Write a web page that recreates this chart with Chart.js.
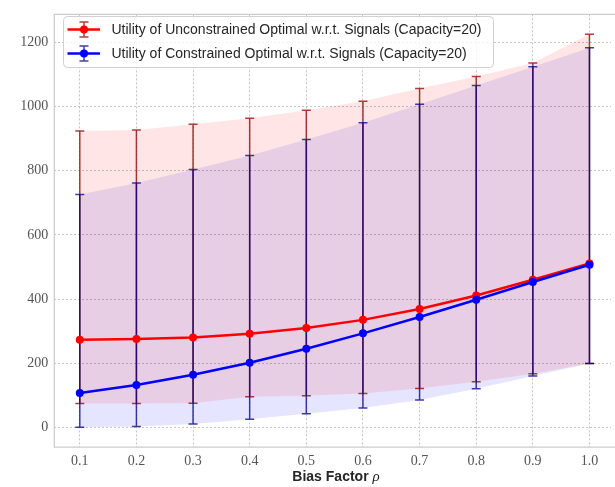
<!DOCTYPE html>
<html>
<head>
<meta charset="utf-8">
<script src="https://cdn.jsdelivr.net/npm/chart.js@4/dist/chart.umd.min.js"></script>
<style>
  body { margin: 0; background: #fff; overflow: hidden; }
  canvas { display: block; }
</style>
</head>
<body>
<canvas id="utilityChart" width="615" height="487"></canvas>
<script>
const rhoValues = [0.1, 0.2, 0.3, 0.4, 0.5, 0.6, 0.7, 0.8, 0.9, 1.0];

// unconstrained optimum: mean, upper and lower bound
const unconstrainedMean = [273, 275, 280, 292, 310, 335, 369, 411, 460, 511];
const unconstrainedUpper = [924, 927, 945, 964, 989, 1017, 1057, 1094, 1136, 1226];
const unconstrainedLower = [74, 74, 75, 95, 98, 105, 121, 142, 167, 199];

// constrained optimum
const constrainedMean = [107, 132, 164, 201, 245, 293, 344, 398, 453, 507];
const constrainedUpper = [726, 762, 804, 848, 898, 950, 1008, 1066, 1125, 1184];
const constrainedLower = [0, 2, 10, 25, 42, 60, 85, 120, 160, 199];

const yTicks = [0, 200, 400, 600, 800, 1000, 1200];

const seriesLabels = [
    'Utility of Unconstrained Optimal w.r.t. Signals (Capacity=20)',
    'Utility of Constrained Optimal w.r.t. Signals (Capacity=20)'
];

const toPoints = arr => arr.map((y, i) => ({ x: rhoValues[i], y: y }));

const series = [
    { mean: unconstrainedMean, upper: unconstrainedUpper, lower: unconstrainedLower,
      line: '#ff0000', bar: 'rgba(139,0,0,0.75)', band: 'rgba(255,0,0,0.1)' },
    { mean: constrainedMean, upper: constrainedUpper, lower: constrainedLower,
      line: '#0000ff', bar: 'rgba(0,0,128,0.75)', band: 'rgba(0,0,255,0.1)' }
];

const datasets = [];
series.forEach((s, k) => {
    // shaded band between upper and lower bound
    datasets.push({ data: toPoints(s.upper), fill: '+1', backgroundColor: s.band,
        borderWidth: 0, pointRadius: 0, order: 10 });
    datasets.push({ data: toPoints(s.lower), fill: false,
        borderWidth: 0, pointRadius: 0, order: 10 });
});
series.forEach((s, k) => {
    datasets.push({ label: seriesLabels[k], data: toPoints(s.mean), fill: false,
        borderColor: s.line, backgroundColor: s.line, borderWidth: 2.5,
        pointRadius: 4, pointBorderWidth: 0, pointBackgroundColor: s.line,
        tension: 0, order: 2 - k });
});

const CAP = 4.5;

function drawErrorBar(ctx, x, yTop, yBottom, color) {
    ctx.strokeStyle = color;
    ctx.lineWidth = 1.5;
    ctx.beginPath();
    ctx.moveTo(x, yTop); ctx.lineTo(x, yBottom);
    ctx.moveTo(x - CAP, yTop); ctx.lineTo(x + CAP, yTop);
    ctx.moveTo(x - CAP, yBottom); ctx.lineTo(x + CAP, yBottom);
    ctx.stroke();
}

const errorBars = {
    id: 'errorBars',
    beforeDatasetsDraw(chart) {
        const { ctx, scales: { x, y } } = chart;
        ctx.save();
        series.forEach(s => {
            rhoValues.forEach((rho, i) => {
                drawErrorBar(ctx, x.getPixelForValue(rho),
                    y.getPixelForValue(s.upper[i]), y.getPixelForValue(s.lower[i]), s.bar);
            });
        });
        ctx.restore();
    }
};

const frameAndText = {
    id: 'frameAndText',
    afterDatasetsDraw(chart) {
        const { ctx, chartArea: a } = chart;
        ctx.save();
        ctx.strokeStyle = '#cccccc';
        ctx.lineWidth = 1.25;
        ctx.beginPath();
        ctx.moveTo(a.right + 5, a.top); ctx.lineTo(a.left, a.top);
        ctx.lineTo(a.left, a.bottom); ctx.lineTo(a.right + 5, a.bottom);
        ctx.stroke();
        ctx.restore();
    },
    afterDraw(chart) {
        const { ctx } = chart;
        ctx.save();

        // legend box
        const bx = 63.5, by = 16.5, bw = 430, bh = 51;
        ctx.fillStyle = 'rgba(255,255,255,0.8)';
        ctx.strokeStyle = '#d0d0d0';
        ctx.lineWidth = 1;
        ctx.beginPath();
        ctx.roundRect(bx, by, bw, bh, 4);
        ctx.fill();
        ctx.stroke();

        series.forEach((s, k) => {
            const cy = 29.5 + k * 24;
            const cx = 84;
            ctx.strokeStyle = s.line;
            ctx.lineWidth = 2.5;
            ctx.beginPath();
            ctx.moveTo(67.5, cy); ctx.lineTo(100, cy);
            ctx.stroke();
            drawErrorBar(ctx, cx, cy - 7.5, cy + 7.5, s.bar);
            ctx.fillStyle = s.line;
            ctx.beginPath();
            ctx.arc(cx, cy, 4, 0, Math.PI * 2);
            ctx.fill();

            ctx.fillStyle = '#262626';
            ctx.font = '14px "Liberation Sans"';
            ctx.textBaseline = 'middle';
            ctx.textAlign = 'left';
            ctx.fillText(seriesLabels[k], 111.5, cy + 1);
        });

        // x axis title: bold text followed by an italic rho
        const part1 = 'Bias Factor ';
        const part2 = 'ρ';
        ctx.fillStyle = '#262626';
        ctx.textBaseline = 'alphabetic';
        ctx.font = 'bold 14px "Liberation Sans"';
        const w1 = ctx.measureText(part1).width;
        ctx.font = 'italic 15px "Liberation Serif"';
        const w2 = ctx.measureText(part2).width;
        const start = 336 - (w1 + w2) / 2;
        ctx.font = 'bold 14px "Liberation Sans"';
        ctx.fillText(part1, start, 481);
        ctx.font = 'italic 15px "Liberation Serif"';
        ctx.fillText(part2, start + w1, 481);
        ctx.restore();
    }
};

const gridStyle = { color: '#c4c4c4', lineWidth: 1, drawTicks: false };
const tickFont = { family: '"Liberation Serif"', size: 14 };

new Chart(document.getElementById('utilityChart').getContext('2d'), {
    type: 'line',
    data: { datasets: datasets },
    options: {
        responsive: false,
        animation: false,
        layout: { padding: { top: 9, left: 0, right: 0, bottom: 0 } },
        scales: {
            x: {
                type: 'linear',
                min: 0.055,
                max: 1.038,
                afterBuildTicks: scale => { scale.ticks = rhoValues.map(v => ({ value: v })); },
                afterFit: scale => { scale.height = 40; },
                grid: gridStyle,
                border: { display: false, dash: [2, 2] },
                ticks: { font: tickFont, color: '#555', padding: 6, maxRotation: 0,
                    callback: v => v.toFixed(1) }
            },
            y: {
                min: -61.6,
                max: 1288,
                afterBuildTicks: scale => { scale.ticks = yTicks.map(v => ({ value: v })); },
                afterFit: scale => { scale.width = 54.3; },
                grid: gridStyle,
                border: { display: false, dash: [2, 2] },
                ticks: { font: tickFont, color: '#555', padding: 6,
                    callback: v => String(v) }
            }
        },
        plugins: {
            legend: { display: false },
            tooltip: { enabled: false },
            filler: { drawTime: 'beforeDatasetsDraw' }
        }
    },
    plugins: [errorBars, frameAndText]
});
</script>
</body>
</html>
